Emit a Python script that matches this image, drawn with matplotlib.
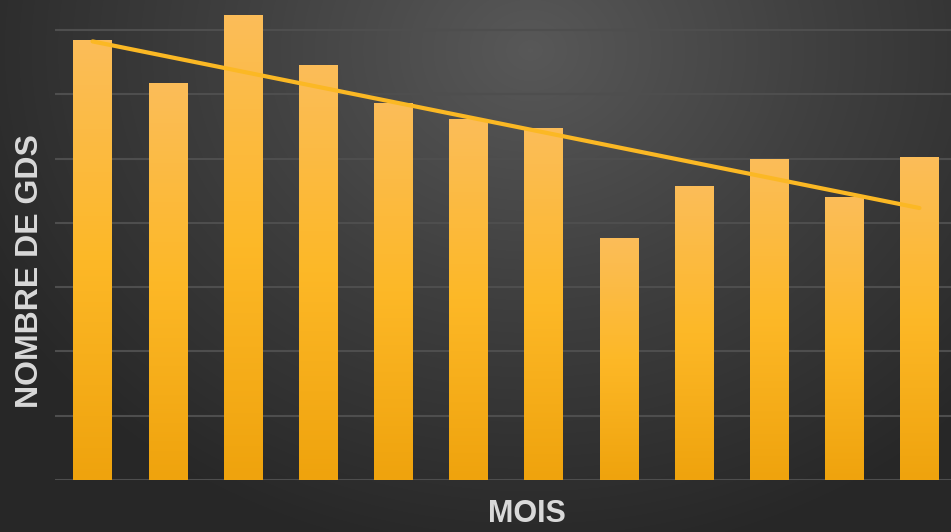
import numpy as np
import matplotlib
matplotlib.use("Agg")
import matplotlib.pyplot as plt
from matplotlib.colors import LinearSegmentedColormap

# Data (one bar per month, no tick labels shown)
mois = np.arange(12)
nombre_gds = [6.84, 6.17, 7.22, 6.44, 5.85, 5.60, 5.46, 3.76, 4.56, 4.99, 4.40, 5.02]

fig = plt.figure(figsize=(9.51, 5.32), dpi=100)

# radial dark background
bg = fig.add_axes([0, 0, 1, 1], zorder=0)
yy, xx = np.mgrid[0:532, 0:951]
r = np.sqrt(((xx - 530) / 620.0) ** 2 + ((yy - 50) / 520.0) ** 2)
r = np.clip(r, 0, 1)
bg_cmap = LinearSegmentedColormap.from_list("bg", ["#585858", "#3e3e3e", "#272727"])
bg.imshow(r, cmap=bg_cmap, aspect="auto", extent=[0, 1, 0, 1], origin="upper")
bg.axis("off")

ax = fig.add_axes([55 / 951, 52 / 532, 896 / 951, 470 / 532], zorder=1)
ax.patch.set_alpha(0)

for g in range(0, 8):
    ax.axhline(g, color="#4e4e4e", lw=1.5, zorder=1)

# bars with vertical gradient
bar_cmap = LinearSegmentedColormap.from_list("bar", ["#efa30d", "#fdb827", "#fbbd59"])
grad = np.linspace(0, 1, 256).reshape(-1, 1)
width = 0.51
bars = ax.bar(mois, nombre_gds, width=width, color="none", zorder=2)
for b in bars:
    x0, h = b.get_x(), b.get_height()
    ax.imshow(grad, cmap=bar_cmap, aspect="auto", origin="lower",
              extent=[x0, x0 + width, 0, h], zorder=2)

# linear trend line
coef = np.polyfit(mois, nombre_gds, 1)
ax.plot(mois[[0, -1]], np.polyval(coef, mois[[0, -1]]), color="#fbb824", lw=3,
        solid_capstyle="round", zorder=3)

ax.set_xlim(-0.5, 11.42)
ax.set_ylim(0, 7.31)
ax.set_xticks([])
ax.set_yticks([])
for s in ax.spines.values():
    s.set_visible(False)

fig.text(527 / 951, 1 - 514 / 532, "MOIS", color="#d9d9d9", fontsize=22,
         fontweight="bold", family="Liberation Sans", ha="center", va="center")
fig.text(30 / 951, 1 - 271 / 532, "NOMBRE DE GDS", color="#d9d9d9", fontsize=23,
         fontweight="bold", family="Liberation Sans", ha="center", va="center",
         rotation=90)

fig.savefig("out.png", dpi=100)
